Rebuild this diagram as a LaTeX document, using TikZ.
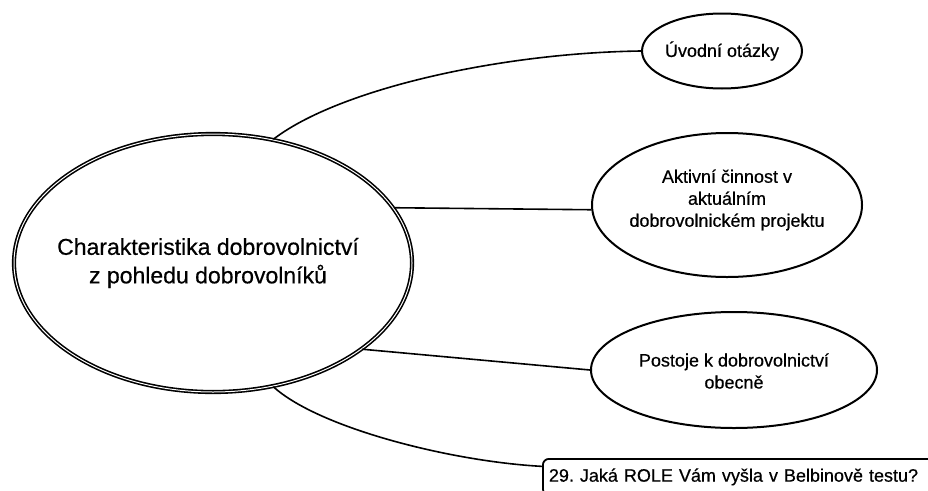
\documentclass[tikz,border=0pt]{standalone}
\usepackage{fontspec}
\setmainfont{Liberation Sans}[FakeBold=0.5]
\usetikzlibrary{shapes.geometric}
\begin{document}
\frenchspacing
\begin{tikzpicture}[x=1pt,y=-1pt,
  bigell/.style={ellipse, draw=black, double=white, line width=1.6pt, double distance=1pt, minimum width=398pt, minimum height=258pt, inner sep=0pt},
  smallell/.style={ellipse, draw=black, line width=2pt, inner sep=0pt},
  conn/.style={draw=black, line width=1.6pt},
  bigtxt/.style={align=center, font=\fontsize{23}{28.5}\selectfont},
  smalltxt/.style={align=center, font=\fontsize{18}{22}\selectfont},
  qbox/.style={draw=black, line width=1.8pt, rounded corners=6pt, anchor=north west, minimum width=400pt, minimum height=36pt, text width=388pt, inner xsep=6pt, align=left, font=\fontsize{18}{22}\selectfont}
]
\useasboundingbox (0,0) rectangle (928,490);
\clip (0,0) rectangle (928,490);
\fill[white] (0,0) rectangle (928,490);

% nodes
\node[bigell] (big) at (213,263) {};
\node[bigtxt] (bigt) at (208,263) {Charakteristika dobrovolnictví\\z pohledu dobrovolníků};

\node[smallell, minimum width=160pt, minimum height=75pt] (u) at (722,51) {};
\node[smalltxt] (ut) at (722,51) {Úvodní otázky};

\node[smallell, minimum width=270pt, minimum height=144pt] (a) at (727,205) {};
\node[smalltxt] (at) at (727,200) {Aktivní činnost v\\aktuálním\\dobrovolnickém projektu};

\node[smallell, minimum width=286pt, minimum height=116pt] (p) at (734,370) {};
\node[smalltxt] (pt) at (734,371) {Postoje k dobrovolnictví\\obecně};

\node[qbox] (q) at (542,458) {29. Jaká ROLE Vám vyšla v Belbinově testu?};

% connectors
\path[conn] (big.64) .. controls +(65,-50) and +(-142,2) .. (u.west);
\path[conn] (big.17) -- (a.182);
\path[conn] (big.-30) -- (p.west);
\path[conn] (big.-64) .. controls +(45,41) and +(-92,-5) .. (q.177);
\end{tikzpicture}
\end{document}
